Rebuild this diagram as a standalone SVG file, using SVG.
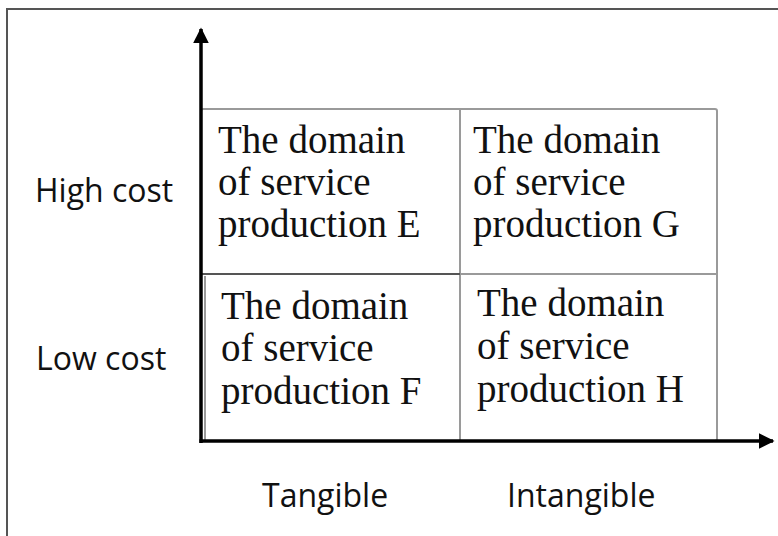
<svg xmlns="http://www.w3.org/2000/svg" width="778" height="536" viewBox="0 0 778 536">
<style>
.cell{font-family:"Liberation Serif","Times New Roman",serif;font-size:39px;fill:#111}
.lab{font-family:"Open Sans","Liberation Sans",sans-serif;font-size:32px;fill:#111}
.grid{fill:none;stroke:#9a9a9a;stroke-width:2}
.axis{stroke:#000;stroke-width:3.5;fill:none}
</style>
<defs>
<marker id="arr" viewBox="0 0 10 10" refX="9" refY="5" markerWidth="4.5" markerHeight="4.5" orient="auto" markerUnits="strokeWidth">
<path d="M0,0 L10,5 L0,10 z" fill="#000"/>
</marker>
</defs>
<rect x="0" y="0" width="778" height="536" fill="#fff"/>
<rect x="7" y="9" width="820" height="600" fill="none" stroke="#555" stroke-width="2"/>
<g id="grid">
<rect class="grid" x="201" y="109" width="516" height="332" rx="2"/>
<line class="grid" x1="460" y1="109" x2="460" y2="441"/>
<line class="grid" x1="460" y1="274" x2="717" y2="274"/>
<line x1="201" y1="274" x2="460" y2="274" stroke="#555" stroke-width="2.2"/>
<line class="grid" x1="205" y1="276" x2="205" y2="440"/>
</g>
<g id="cellE">
<text class="cell" x="218" y="153">The domain</text>
<text class="cell" x="218" y="195">of service</text>
<text class="cell" x="218" y="237">production E</text>
</g>
<g id="cellG">
<text class="cell" x="473" y="153">The domain</text>
<text class="cell" x="473" y="195">of service</text>
<text class="cell" x="473" y="237">production G</text>
</g>
<g id="cellF">
<text class="cell" x="221" y="319">The domain</text>
<text class="cell" x="221" y="361">of service</text>
<text class="cell" x="221" y="404">production F</text>
</g>
<g id="cellH">
<text class="cell" x="477" y="316">The domain</text>
<text class="cell" x="477" y="359">of service</text>
<text class="cell" x="477" y="402">production H</text>
</g>
<g id="connectors">
<line class="axis" x1="201" y1="443" x2="201" y2="29" marker-end="url(#arr)"/>
<line class="axis" x1="199.5" y1="441" x2="773" y2="441" marker-end="url(#arr)"/>
</g>
<g id="labels">
<text class="lab" x="35" y="202">High cost</text>
<text class="lab" x="36" y="370">Low cost</text>
<text class="lab" x="262" y="507">Tangible</text>
<text class="lab" x="507" y="507">Intangible</text>
</g>
</svg>
